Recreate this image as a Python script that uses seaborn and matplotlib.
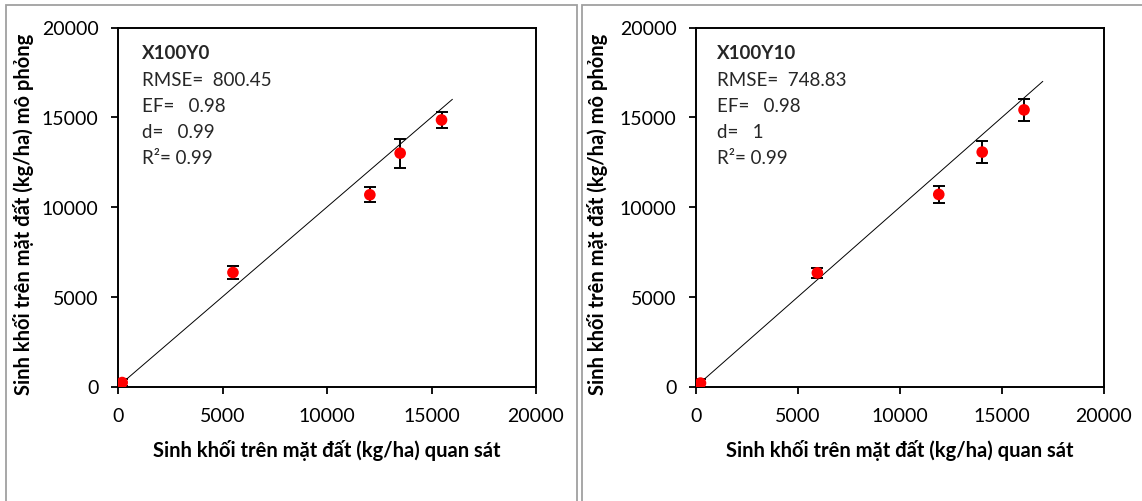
import numpy as np
import pandas as pd
import matplotlib
matplotlib.use("Agg")
import matplotlib.pyplot as plt
import seaborn as sns
from matplotlib.patches import Rectangle

# ---------------- data ----------------
panel_titles = ["X100Y0", "X100Y10"]
rmse_vals = ["800.45", "748.83"]
ef_vals = ["0.98", "0.98"]
d_vals = ["0.99", "1"]
r2_vals = ["0.99", "0.99"]

obs_x100y0 = [200, 5500, 12050, 13500, 15480]
sim_x100y0 = [220, 6350, 10680, 13000, 14850]
err_x100y0 = [200, 370, 420, 810, 450]
line_end_x100y0 = 16000

obs_x100y10 = [220, 5950, 11900, 14030, 16080]
sim_x100y10 = [190, 6330, 10700, 13060, 15410]
err_x100y10 = [200, 290, 470, 600, 630]
line_end_x100y10 = 17000

axis_ticks = [0, 5000, 10000, 15000, 20000]
xlabel = "Sinh khối trên mặt đất (kg/ha) quan sát"
ylabel = "Sinh khối trên mặt đất (kg/ha) mô phỏng"

# ---------------- style ----------------
sns.set_theme(style="white")
plt.rcParams['font.family'] = ['Lato', 'Noto Sans', 'DejaVu Sans']

fig = plt.figure(figsize=(11.42, 5.02), dpi=100)

W, H = 1142, 502
def frame(x0, y0, x1, y1):
    fig.patches.append(Rectangle((x0 / W, 1 - y1 / H), (x1 - x0) / W, (y1 - y0) / H,
                                 transform=fig.transFigure, fill=False,
                                 edgecolor="#a0a0a0", linewidth=1.3, zorder=0))
frame(6, 6, 577, 520)
frame(582, 6, 1160, 520)

ax_rects = [
    [118 / W, 1 - 387.5 / H, 418 / W, 359 / H],
    [696 / W, 1 - 387.5 / H, 408 / W, 359 / H],
]
text_x = [0.057, 0.052]
ylabel_x = [-0.201, -0.216]
text_y = [0.929, 0.854, 0.782, 0.710, 0.638]

datasets = [
    (obs_x100y0, sim_x100y0, err_x100y0, line_end_x100y0),
    (obs_x100y10, sim_x100y10, err_x100y10, line_end_x100y10),
]

for i, (obs, sim, err, lend) in enumerate(datasets):
    ax = fig.add_axes(ax_rects[i])
    df = pd.DataFrame({"obs": obs, "sim": sim, "err": err})
    line_df = pd.DataFrame({"x": [0, lend], "y": [0, lend]})
    sns.lineplot(data=line_df, x="x", y="y", ax=ax, color="black", linewidth=0.7, zorder=2)
    ax.errorbar(df["obs"], df["sim"], yerr=df["err"], fmt="none", ecolor="black",
                elinewidth=1.4, capsize=4, capthick=1.4, zorder=3)
    sns.scatterplot(data=df, x="obs", y="sim", ax=ax, color="#ff0000", s=70,
                    edgecolor="none", zorder=4)

    ax.set_xlim(0, 20000)
    ax.set_ylim(0, 20000)
    ax.set_xticks(axis_ticks)
    ax.set_yticks(axis_ticks)
    ax.set_xticklabels([str(t) for t in axis_ticks])
    ax.set_yticklabels([str(t) for t in axis_ticks])
    ax.tick_params(axis="both", which="major", direction="out", length=5, width=1.3,
                   color="black", labelsize=14, labelcolor="black", bottom=True, left=True)
    ax.tick_params(axis="x", pad=10)
    ax.tick_params(axis="y", pad=9)
    for s in ax.spines.values():
        s.set_visible(True)
        s.set_color("black")
        s.set_linewidth(1.4)

    ax.set_xlabel(xlabel, fontsize=14.5, fontweight="bold", color="black")
    ax.set_ylabel(ylabel, fontsize=14.5, fontweight="bold", color="black")
    ax.xaxis.set_label_coords(0.5, -0.146)
    ax.yaxis.set_label_coords(ylabel_x[i], 0.483)

    tx = text_x[i]
    lines = [panel_titles[i], "RMSE=  " + rmse_vals[i], "EF=   " + ef_vals[i],
             "d=   " + d_vals[i], "R²= " + r2_vals[i]]
    for j, txt in enumerate(lines):
        ax.text(tx, text_y[j], txt, transform=ax.transAxes, fontsize=13.5,
                fontweight="bold" if j == 0 else "normal", va="center", ha="left")

fig.savefig("out.png", dpi=100, facecolor="white")
